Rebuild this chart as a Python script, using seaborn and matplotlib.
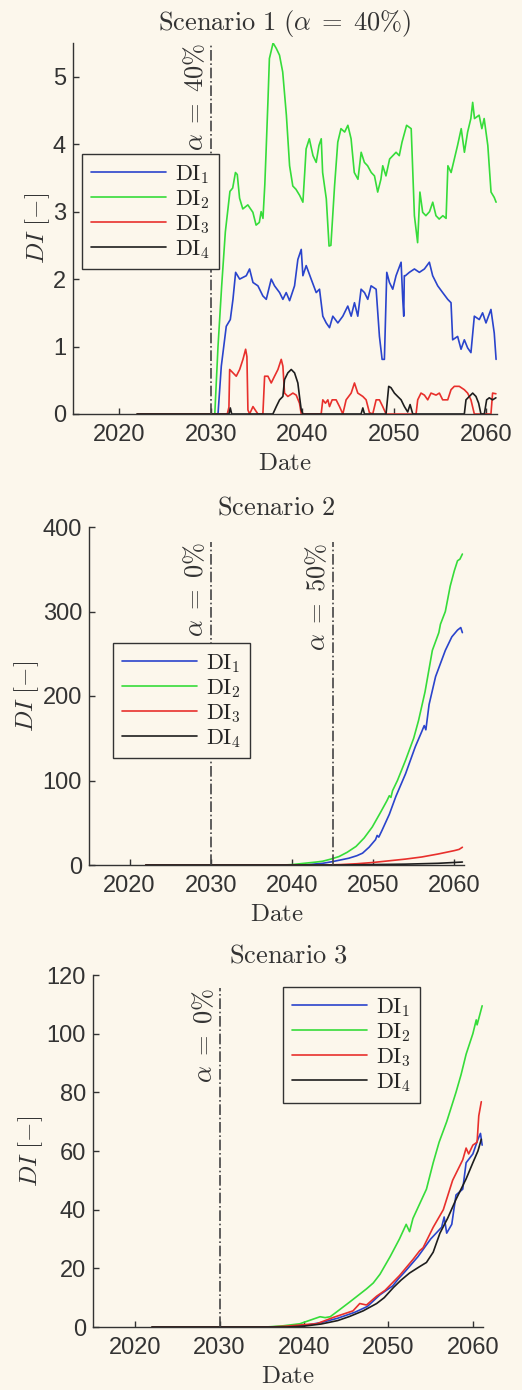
import numpy as np
import pandas as pd
import matplotlib
matplotlib.use("Agg")
import matplotlib.pyplot as plt
import seaborn as sns

# ---- Scenario 1 (alpha = 40%) ----
s1_di1_x = [2022, 2030.8, 2031.16, 2031.7, 2032.14, 2032.43, 2032.72, 2033.16, 2033.88, 2034.24,
            2034.61, 2035.15, 2035.69, 2036.06, 2036.6, 2036.96, 2037.51, 2037.87, 2038.23, 2038.6,
            2039.14, 2039.5, 2039.87, 2040.05, 2040.41, 2040.95, 2041.5, 2041.86, 2042.22, 2042.59,
            2042.95, 2043.31, 2043.86, 2044.4, 2044.94, 2045.31, 2045.67, 2046.03, 2046.39, 2046.76,
            2047.12, 2047.48, 2048.03, 2048.39, 2048.68, 2048.93, 2049.19, 2049.48, 2049.84, 2050.2,
            2050.75, 2050.93, 2051.04, 2051.1, 2051.22, 2051.65, 2052.2, 2052.74, 2053.29, 2053.83,
            2054.19, 2054.74, 2055.28, 2055.83, 2056.19, 2056.37, 2056.91, 2057.28, 2057.64, 2058.0,
            2058.36, 2058.73, 2059.27, 2059.63, 2060.0, 2060.54, 2060.9, 2061.1]
s1_di1 = [0, 0, 0.71, 1.3, 1.4, 1.7, 2.1, 2.0, 2.05, 2.15,
          1.95, 1.9, 1.75, 1.7, 2.0, 1.9, 1.8, 1.7, 1.8, 1.68,
          1.9, 2.29, 2.44, 2.05, 2.2, 2.0, 1.8, 1.85, 1.45, 1.35,
          1.28, 1.45, 1.35, 1.45, 1.6, 1.45, 1.65, 1.45, 1.85, 1.8,
          1.7, 1.9, 1.85, 1.15, 0.81, 0.81, 2.1, 1.95, 1.85, 2.05,
          2.25, 1.7, 1.45, 2.05, 2.05, 2.1, 2.15, 2.1, 2.15, 2.25,
          2.05, 1.9, 1.8, 1.7, 1.65, 1.1, 1.15, 0.96, 1.1, 0.98,
          0.91, 1.45, 1.4, 1.5, 1.35, 1.55, 1.2, 0.81]

s1_di2_x = [2022, 2030.45, 2030.8, 2031.2, 2031.6, 2032.1, 2032.4, 2032.7, 2032.9, 2033.15,
            2033.5, 2034.05, 2034.6, 2034.95, 2035.3, 2035.5, 2035.7, 2035.9, 2036.05, 2036.25,
            2036.4, 2036.8, 2037.15, 2037.5, 2037.85, 2038.25, 2038.6, 2038.95, 2039.3, 2039.7,
            2040.05, 2040.25, 2040.4, 2040.75, 2041.15, 2041.5, 2041.8, 2042.05, 2042.2, 2042.6,
            2042.9, 2043.1, 2043.5, 2043.85, 2044.2, 2044.6, 2044.95, 2045.3, 2045.65, 2046.05,
            2046.4, 2046.75, 2047.1, 2047.5, 2047.85, 2048.2, 2048.55, 2048.75, 2049.1, 2049.5,
            2049.85, 2050.2, 2050.55, 2050.85, 2051.35, 2051.85, 2052.0, 2052.2, 2052.55, 2052.8,
            2053.1, 2053.45, 2053.85, 2054.2, 2054.55, 2054.9, 2055.3, 2055.65, 2055.85, 2056.2,
            2056.55, 2056.9, 2057.3, 2057.65, 2058.0, 2058.35, 2058.55, 2058.75, 2059.25, 2059.55,
            2059.8, 2060.2, 2060.55, 2060.9, 2061.1]
s1_di2 = [0, 0, 1.0, 1.9, 2.7, 3.3, 3.35, 3.58, 3.55, 3.2,
          3.04, 3.1, 2.99, 2.8, 2.84, 3.0, 2.9, 3.4, 3.93, 4.67,
          5.27, 5.5, 5.42, 5.32, 5.07, 4.43, 3.68, 3.38, 3.33, 3.24,
          3.14, 3.58, 3.93, 4.08, 3.83, 3.73, 3.98, 4.08, 3.58, 3.19,
          2.49, 2.5, 3.38, 4.03, 4.23, 4.18, 4.28, 4.08, 3.58, 3.48,
          3.88, 3.73, 3.68, 3.58, 3.53, 3.29, 3.48, 3.68, 3.53, 3.78,
          3.83, 3.88, 3.83, 4.03, 4.28, 4.23, 3.68, 2.94, 2.54, 3.29,
          2.99, 2.94, 3.0, 3.14, 2.94, 2.89, 2.94, 2.9, 3.68, 3.58,
          3.78, 3.98, 4.23, 3.88, 4.18, 4.38, 4.62, 4.38, 4.43, 4.23,
          4.38, 3.98, 3.29, 3.21, 3.14]

s1_di3_x = [2022, 2031.81, 2031.99, 2032.07, 2032.43, 2032.79, 2033.16, 2033.52, 2033.81, 2033.95,
            2034.06, 2034.24, 2034.61, 2034.9, 2035.15, 2035.69, 2035.88, 2036.24, 2036.6, 2036.96,
            2037.33, 2037.69, 2037.87, 2038.05, 2038.41, 2038.96, 2039.32, 2039.68, 2039.87, 2042.04,
            2042.22, 2042.51, 2042.77, 2042.95, 2043.24, 2043.67, 2044.04, 2044.4, 2044.76, 2045.31,
            2045.67, 2046.03, 2046.58, 2046.94, 2047.3, 2047.66, 2048.03, 2048.39, 2048.75, 2049.11,
            2052.38, 2052.56, 2052.92, 2053.29, 2053.65, 2054.01, 2054.56, 2054.92, 2055.28, 2055.83,
            2056.19, 2056.55, 2057.09, 2057.64, 2058.0, 2058.36, 2058.73, 2060.54, 2060.72, 2061.08]
s1_di3 = [0, 0, 0.1, 0.66, 0.61, 0.56, 0.66, 0.81, 0.96, 0.85,
          0.06, 0, 0.11, 0.05, 0, 0, 0.56, 0.56, 0.46, 0.56,
          0.66, 0.81, 0.71, 0.31, 0.26, 0.31, 0.28, 0.16, 0, 0,
          0.21, 0.16, 0.21, 0.11, 0.21, 0.21, 0.11, 0, 0.21, 0.31,
          0.46, 0.31, 0.26, 0.21, 0.02, 0, 0.21, 0.21, 0.11, 0,
          0, 0.21, 0.31, 0.28, 0.21, 0.31, 0.28, 0.31, 0.21, 0.21,
          0.36, 0.41, 0.41, 0.36, 0.31, 0.21, 0, 0, 0.31, 0.3]

s1_di4_x = [2022, 2031.99, 2032.14, 2032.29, 2036.78, 2037.15, 2037.51, 2037.87, 2038.05, 2038.41,
            2038.78, 2039.14, 2039.5, 2039.68, 2039.87, 2040.05, 2046.39, 2046.58, 2046.76, 2049.11,
            2049.4, 2049.65, 2050.02, 2050.38, 2050.75, 2051.11, 2051.47, 2051.73, 2052.02, 2057.64,
            2057.82, 2058.18, 2058.55, 2058.91, 2059.2, 2059.45, 2059.82, 2060.07, 2060.36, 2060.72,
            2061.08]
s1_di4 = [0, 0, 0.09, 0, 0, 0.11, 0.21, 0.26, 0.51, 0.61,
          0.66, 0.61, 0.46, 0.26, 0.06, 0, 0, 0.09, 0, 0,
          0.41, 0.39, 0.31, 0.26, 0.21, 0.11, 0.03, 0.14, 0, 0,
          0.21, 0.26, 0.31, 0.26, 0.16, 0, 0, 0.21, 0.24, 0.21,
          0.24]

# ---- Scenario 2 ----
s2_di1_x = [2022, 2040, 2042, 2043.8, 2045.0, 2046.0, 2047.0, 2048.0, 2048.7, 2049.5,
            2050.3, 2050.5, 2050.7, 2051.1, 2052.0, 2052.8, 2054.0, 2055.2, 2056.0, 2056.3,
            2056.5, 2056.9, 2057.7, 2058.9, 2059.7, 2060.4, 2060.8, 2061.0]
s2_di1 = [0, 0, 0.5, 2, 4, 6, 8, 11, 14, 21,
          30, 35, 33, 41, 60, 81, 108, 140, 158, 165,
          160, 190, 223, 254, 270, 278, 281, 275]

s2_di2_x = [2022, 2039, 2040, 2041, 2042, 2043, 2043.8, 2044.8, 2045.8, 2046.8,
            2047.9, 2048.9, 2049.9, 2050.9, 2051.7, 2052.0, 2052.2, 2052.4, 2053.0, 2054.0,
            2055.0, 2055.6, 2056.4, 2057.3, 2058.1, 2058.3, 2058.9, 2059.5, 2060.0, 2060.4,
            2060.7, 2061.0]
s2_di2 = [0, 0, 0.5, 1.5, 2.5, 3.5, 4.5, 7, 10, 15,
          22, 32, 45, 62, 76, 82, 80, 88, 100, 124,
          150, 171, 205, 254, 275, 285, 300, 330, 348, 360,
          362, 368]

s2_di3_x = [2022, 2044, 2046, 2048, 2050, 2052, 2054, 2056, 2058, 2059,
            2060, 2060.6, 2061]
s2_di3 = [0, 0, 0.5, 1.5, 3, 5, 7, 9.5, 13, 15,
          17, 18.5, 21]

s2_di4_x = [2022, 2046, 2050, 2054, 2058, 2060, 2061]
s2_di4 = [0, 0, 0.5, 1, 2, 3, 3.5]

# ---- Scenario 3 ----
s3_di1_x = [2022, 2037, 2040, 2042, 2044, 2046, 2047.5, 2049, 2050.5, 2051.2,
            2052.0, 2053.5, 2055, 2056.3, 2056.6, 2056.9, 2057.5, 2058.0, 2058.8, 2059.2,
            2060.0, 2060.6, 2060.9, 2061.1]
s3_di1 = [0, 0, 0.5, 1.5, 3, 5, 7, 11, 14, 16.5,
          19, 24, 30, 34, 37.5, 32, 35, 45, 47, 56,
          59, 64, 66, 62]

s3_di2_x = [2022, 2035.5, 2037.5, 2039.5, 2040.7, 2041.9, 2042.5, 2043.1, 2043.8, 2045.4,
            2047.4, 2048.2, 2049.0, 2050.2, 2051.3, 2052.1, 2052.5, 2052.9, 2053.7, 2054.5,
            2055.3, 2056.0, 2056.9, 2058.0, 2058.6, 2059.2, 2060.0, 2060.4, 2060.5, 2061.1]
s3_di2 = [0, 0, 0.4, 1.1, 2.3, 3.5, 3.2, 3.5, 5.0, 8.5,
          13, 15, 18, 24, 30, 35, 32.5, 37, 42, 47,
          56, 63, 70, 80, 86, 93, 100, 104.7, 103, 109.5]

s3_di3_x = [2022, 2036, 2038, 2040, 2041.5, 2043.5, 2045.8, 2046.6, 2047.4, 2048.6,
            2049.6, 2051.3, 2052.9, 2053.7, 2054.1, 2055.3, 2056.5, 2057.6, 2058.8, 2059.2,
            2059.5, 2060.0, 2060.5, 2060.7, 2061.0]
s3_di3 = [0, 0, 0.3, 0.8, 1.1, 3.3, 5.5, 8, 7.5, 10.5,
          12.5, 17.5, 23, 26, 27, 34, 40, 50, 57, 61,
          59, 62, 63, 72, 76.8]

s3_di4_x = [2022, 2038, 2040, 2042, 2044, 2045.4, 2047, 2048.6, 2049.5, 2050.6,
            2051.5, 2052.5, 2053.7, 2054.5, 2055.3, 2056.1, 2057.0, 2058.0, 2059.2, 2060.0,
            2060.6, 2061.0]
s3_di4 = [0, 0, 0.3, 1, 2.2, 3.6, 5.5, 8, 10, 13.5,
          16, 18.4, 20.6, 22, 25.5, 32, 37, 43.5, 50.5, 56,
          60, 64]

series_names = ["DI1", "DI2", "DI3", "DI4"]
legend_labels = [r"$\mathrm{DI}_1$", r"$\mathrm{DI}_2$", r"$\mathrm{DI}_3$", r"$\mathrm{DI}_4$"]
colors = {"DI1": "#2a44cc", "DI2": "#36dc3a", "DI3": "#e8302c", "DI4": "#1e1e1e"}

bg = "#fcf7ec"
ink = "#333333"

sns.set_theme(style="ticks")
plt.rcParams["font.family"] = ["Liberation Sans", "DejaVu Sans"]
plt.rcParams["mathtext.fontset"] = "cm"
plt.rcParams["xtick.direction"] = "in"
plt.rcParams["ytick.direction"] = "in"


def make_frame(xs, ys):
    parts = []
    for name, x, y in zip(series_names, xs, ys):
        parts.append(pd.DataFrame({"year": x, "DI": y, "series": name}))
    return pd.concat(parts, ignore_index=True)


def draw_panel(ax, df, title, ylim, yticks, vlines, legend_anchor):
    ax.set_facecolor(bg)
    sns.lineplot(data=df, x="year", y="DI", hue="series", hue_order=series_names,
                 palette=colors, estimator=None, sort=False, linewidth=1.2,
                 legend=False, ax=ax)
    handles = list(ax.lines[:4])

    for xv, top, label in vlines:
        ax.plot([xv, xv], [0, top], color="#444444", linestyle="-.", linewidth=1.2)
        ax.annotate(label, xy=(xv, top), xytext=(-2, 0), textcoords="offset points",
                    rotation=90, ha="right", va="top", fontsize=19, color=ink)

    ax.set_xlim(2015, 2061.2)
    ax.set_ylim(*ylim)
    ax.set_xticks([2020, 2030, 2040, 2050, 2060])
    ax.set_yticks(yticks)
    ax.tick_params(labelsize=17, colors=ink, length=4, width=1)
    ax.tick_params(axis="x", pad=7)
    ax.tick_params(axis="y", pad=5)
    for side in ["left", "bottom"]:
        ax.spines[side].set_color(ink)
        ax.spines[side].set_linewidth(1.0)
    sns.despine(ax=ax)

    ax.set_title(title, fontsize=19, color=ink, pad=9)
    ax.set_xlabel(r"$\mathrm{Date}$", fontsize=18, color=ink, labelpad=4)
    ax.set_ylabel(r"$DI\ [-]$", fontsize=18, color=ink, labelpad=1)

    leg = ax.legend(handles, legend_labels, loc="upper left", bbox_to_anchor=legend_anchor,
                    borderaxespad=0, fontsize=16, handlelength=3.4, handletextpad=0.4,
                    labelspacing=0.1, borderpad=0.4, fancybox=False, frameon=True)
    leg.get_frame().set_edgecolor(ink)
    leg.get_frame().set_facecolor(bg)
    leg.get_frame().set_alpha(1)
    leg.get_frame().set_linewidth(1.0)


fig = plt.figure(figsize=(5.22, 13.9), dpi=100, facecolor=bg)
ax1 = fig.add_axes([73 / 522, 1 - 414 / 1390, 424 / 522, 371 / 1390])
ax2 = fig.add_axes([89 / 522, 1 - 865 / 1390, 375 / 522, 338 / 1390])
ax3 = fig.add_axes([93 / 522, 1 - 1327 / 1390, 390 / 522, 352 / 1390])

df1 = make_frame([s1_di1_x, s1_di2_x, s1_di3_x, s1_di4_x], [s1_di1, s1_di2, s1_di3, s1_di4])
df2 = make_frame([s2_di1_x, s2_di2_x, s2_di3_x, s2_di4_x], [s2_di1, s2_di2, s2_di3, s2_di4])
df3 = make_frame([s3_di1_x, s3_di2_x, s3_di3_x, s3_di4_x], [s3_di1, s3_di2, s3_di3, s3_di4])

draw_panel(ax1, df1, r"$\mathrm{Scenario\ 1}\ (\alpha\;=\;40\%)$", (0, 5.5), [0, 1, 2, 3, 4, 5],
           [(2030, 5.5, r"$\alpha\;=\;40\%$")], (0.021, 0.701))
draw_panel(ax2, df2, r"$\mathrm{Scenario\ 2}$", (0, 400), [0, 100, 200, 300, 400],
           [(2030, 382, r"$\alpha\;=\;0\%$"), (2045, 382, r"$\alpha\;=\;50\%$")], (0.064, 0.657))
draw_panel(ax3, df3, r"$\mathrm{Scenario\ 3}$", (0, 120), [0, 20, 40, 60, 80, 100, 120],
           [(2030, 115.6, r"$\alpha\;=\;0\%$")], (0.487, 0.966))

fig.savefig("out.png", dpi=100, facecolor=bg)
